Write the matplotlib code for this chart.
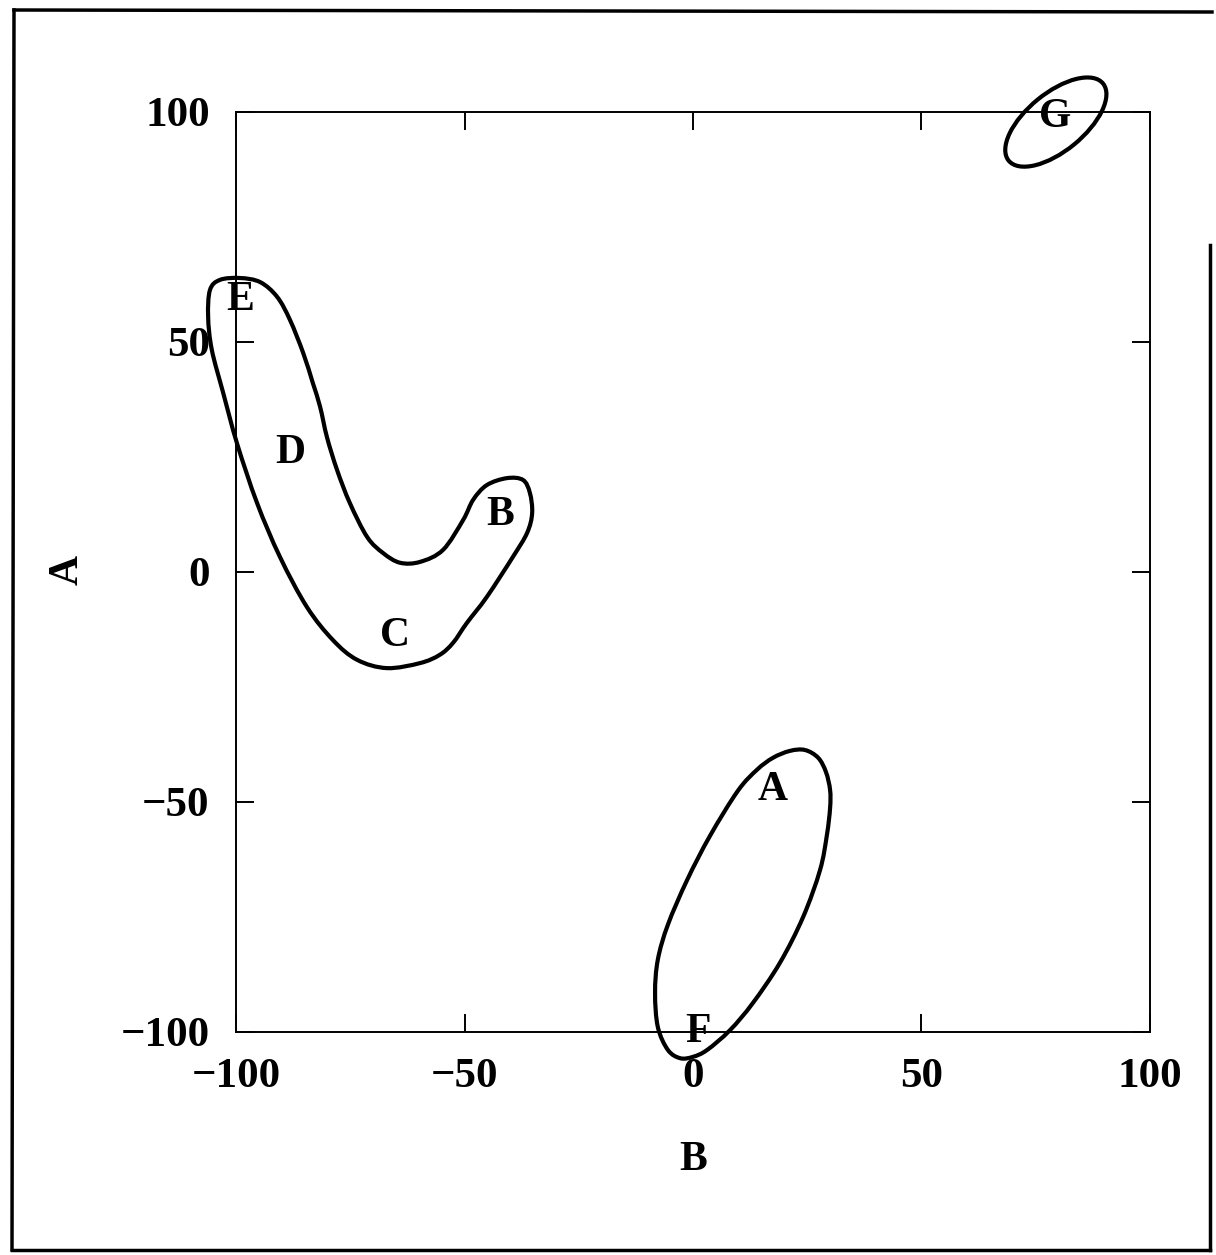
import numpy as np
import matplotlib
matplotlib.use("Agg")
import matplotlib.pyplot as plt
from matplotlib.path import Path
from matplotlib.patches import PathPatch, Ellipse
from matplotlib.lines import Line2D

# Axis ticks
x_ticks = [-100, -50, 0, 50, 100]
y_ticks = [-100, -50, 0, 50, 100]
x_label = "B"
y_label = "A"

# Region outlines (closed, in data units)
bean_x = [-99.1, -94.7, -91.0, -88.2, -85.3, -83.2, -81.6, -80.1, -77.9, -75.1,
          -71.3, -67.8, -64.1, -59.7, -54.7, -50.3, -48.1, -45.1, -40.7, -37.2,
          -35.7, -35.2, -36.3, -39.4, -45.1, -49.5, -52.5, -55.4, -59.7, -67.0,
          -73.5, -78.8, -84.5, -90.4, -95.4, -99.8, -102.8, -105.3, -106.1,
          -105.7, -103.5]
bean_y = [63.9, 63.0, 59.8, 54.8, 47.6, 41.1, 35.9, 29.3, 22.2, 15.0,
          7.6, 4.1, 2.0, 2.2, 4.8, 11.3, 15.7, 18.9, 20.4, 20.0,
          17.2, 12.8, 8.5, 3.3, -5.4, -11.1, -15.4, -18.0, -19.8, -20.9,
          -19.1, -14.8, -7.6, 3.3, 15.0, 28.0, 38.9, 48.3, 55.4,
          61.3, 63.5]

af_x = [24.5, 27.4, 29.1, 30.0, 30.0, 29.3, 27.8, 24.1, 19.0, 13.1,
        8.1, 3.1, 0.0, -2.8, -5.5, -7.7, -8.3, -7.7, -5.5, -1.3,
        3.7, 9.8, 14.0, 17.5, 21.2]
af_y = [-38.7, -40.4, -43.5, -47.4, -51.3, -57.2, -64.8, -75.0, -85.0, -93.7,
        -99.6, -103.9, -105.4, -105.7, -103.9, -98.9, -91.5, -84.3, -76.7, -67.0,
        -57.4, -47.6, -43.0, -40.4, -38.9]

# Elliptical region around G: centre, full axis lengths, tilt in degrees
g_center = (79.4, 97.8)
g_width = 26.6
g_height = 12.6
g_angle = 39.0

# Point labels
point_names = ["A", "B", "C", "D", "E", "F", "G"]
point_x = [17.5, -42.2, -65.2, -88.2, -99.1, 1.1, 79.2]
point_y = [-47.4, 12.4, -13.9, 25.9, 59.1, -100.0, 98.9]


def closed_smooth_path(xs, ys):
    """Closed Catmull-Rom outline expressed as cubic Bezier segments."""
    pts = np.column_stack([xs, ys]).astype(float)
    n = len(pts)
    verts = [pts[0]]
    codes = [Path.MOVETO]
    for i in range(n):
        p0 = pts[(i - 1) % n]
        p1 = pts[i]
        p2 = pts[(i + 1) % n]
        p3 = pts[(i + 2) % n]
        c1 = p1 + (p2 - p0) / 6.0
        c2 = p2 - (p3 - p1) / 6.0
        verts += [c1, c2, p2]
        codes += [Path.CURVE4] * 3
    return Path(np.array(verts), codes)


serif = ["Liberation Serif", "DejaVu Serif"]
plt.rcParams["font.family"] = serif

fig = plt.figure(figsize=(12.16, 12.55), dpi=100)
ax = fig.add_axes([0.1941, 0.1777, 0.7516, 0.7331])
ax.set_xlim(-100, 100)
ax.set_ylim(-100, 100)

outline_style = dict(facecolor="none", edgecolor="black", linewidth=3.0,
                     clip_on=False, joinstyle="round", zorder=3)
for xs, ys in [(bean_x, bean_y), (af_x, af_y)]:
    ax.add_patch(PathPatch(closed_smooth_path(xs, ys), **outline_style))
ax.add_patch(Ellipse(g_center, g_width, g_height, angle=g_angle,
                     **outline_style))

for name, px, py in zip(point_names, point_x, point_y):
    ax.text(px, py, name, ha="center", va="center", fontsize=30,
            fontweight="bold", clip_on=False, zorder=4)

ax.set_xticks(x_ticks)
ax.set_yticks(y_ticks)
ax.set_xticklabels([f"{v:d}".replace("-", "\u2212") for v in x_ticks])
ax.set_yticklabels([f"{v:d}".replace("-", "\u2212") for v in y_ticks])
ax.tick_params(direction="in", length=13, width=1.4, top=True, right=True,
               labelsize=31, pad=19)
for lbl in ax.get_xticklabels() + ax.get_yticklabels():
    lbl.set_fontweight("bold")
for sp in ax.spines.values():
    sp.set_linewidth(1.4)

ax.set_xlabel(x_label, fontsize=30, fontweight="bold")
ax.set_ylabel(y_label, fontsize=30, fontweight="bold")
ax.xaxis.set_label_coords(0.5, -0.139)
ax.xaxis.label.set_va("center")
ax.yaxis.set_label_coords(-0.184, 0.502)
ax.yaxis.label.set_va("center")

# Outer frame
W, H = 1216.0, 1255.0
frame = [((14, 10), (1212, 12)),
         ((14, 10), (12, 1250)),
         ((12, 1250), (1210, 1250)),
         ((1210, 245), (1210, 1250))]
for (x0, y0), (x1, y1) in frame:
    fig.add_artist(Line2D([x0 / W, x1 / W], [1 - y0 / H, 1 - y1 / H],
                          transform=fig.transFigure, color="black",
                          linewidth=2.5))

fig.savefig("out.png", dpi=100)
